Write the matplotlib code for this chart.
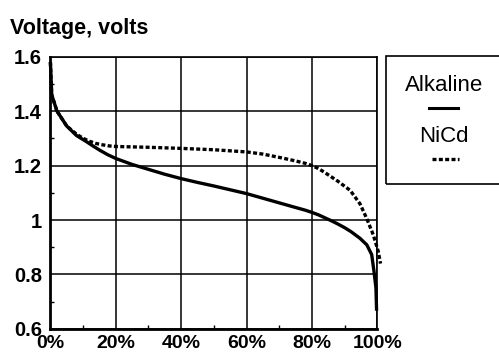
#! /usr/bin/env python3

import matplotlib
matplotlib.use('Agg')
import matplotlib.pyplot as plt
from matplotlib.lines import Line2D
from matplotlib.patches import Rectangle

plt.rcParams['font.family'] = ['Liberation Sans', 'DejaVu Sans']

# discharge curves, x = % of capacity used, y = volts
alk_x = [0, 0.4, 2, 5, 8, 11, 13, 15, 17.5, 20, 25, 30, 35, 40, 45, 50, 55,
         60, 65, 70, 75, 78, 80, 82, 84, 86, 88, 90, 92, 94.7, 96.8, 98.3,
         99, 99.6, 99.8]
alk_y = [1.58, 1.46, 1.40, 1.345, 1.31, 1.288, 1.272, 1.257, 1.24, 1.226,
         1.204, 1.186, 1.168, 1.152, 1.138, 1.125, 1.111, 1.097, 1.08, 1.063,
         1.046, 1.036, 1.028, 1.019, 1.008, 0.997, 0.985, 0.972, 0.957, 0.933,
         0.909, 0.873, 0.812, 0.751, 0.667]

nicd_x = [0, 0.4, 2, 5, 8, 10, 12, 14, 16, 18, 20, 30, 40, 50, 60, 65, 70,
          75, 78, 80, 82, 84, 86, 88, 91.7, 94.7, 96.8, 98.8, 100.3, 101]
nicd_y = [1.58, 1.46, 1.40, 1.345, 1.315, 1.30, 1.289, 1.281, 1.276, 1.272,
          1.27, 1.267, 1.263, 1.258, 1.25, 1.242, 1.23, 1.217, 1.208, 1.200,
          1.189, 1.174, 1.158, 1.142, 1.109, 1.06, 1.005, 0.945, 0.885, 0.84]

x_ticks = [0, 20, 40, 60, 80, 100]
x_labels = ['0%', '20%', '40%', '60%', '80%', '100%']
y_ticks = [0.6, 0.8, 1.0, 1.2, 1.4, 1.6]
y_labels = ['0.6', '0.8', '1', '1.2', '1.4', '1.6']

fig = plt.figure(figsize=(4.99, 3.56), dpi=100)
ax = fig.add_axes([0.101, 0.076, 0.655, 0.765])

ax.plot(alk_x, alk_y, color='black', lw=2.4, solid_capstyle='butt',
        clip_on=False, zorder=3)
ax.plot(nicd_x, nicd_y, color='black', lw=2.4, ls=(0, (1.2, 0.7)),
        clip_on=False, zorder=3)

ax.set_xlim(0, 100)
ax.set_ylim(0.6, 1.6)
ax.set_xticks(x_ticks)
ax.set_xticklabels(x_labels)
ax.set_yticks(y_ticks)
ax.set_yticklabels(y_labels)
ax.set_xticks([10, 30, 50, 70, 90], minor=True)
ax.set_yticks([0.7, 0.9, 1.1, 1.3, 1.5], minor=True)
ax.grid(True, which='major', color='black', lw=1.1)
ax.tick_params(which='major', length=0, labelsize=14.5)
ax.tick_params(axis='x', which='major', pad=4.5, labelsize=14)
ax.tick_params(axis='y', which='major', pad=6)
ax.tick_params(which='minor', direction='in', length=3, width=1)
for lab in ax.get_xticklabels() + ax.get_yticklabels():
    lab.set_fontweight('bold')

ax.spines['left'].set_linewidth(2.0)
ax.spines['bottom'].set_linewidth(2.0)
ax.spines['top'].set_linewidth(1.2)
ax.spines['right'].set_linewidth(1.2)

fig.text(0.02, 0.905, 'Voltage, volts', fontsize=15.5, fontweight='bold',
         va='baseline', ha='left')

# legend box, text above each line sample
fig.patches.append(Rectangle((0.774, 0.483), 0.3, 0.359, transform=fig.transFigure,
                             fill=False, ec='black', lw=1.2, clip_on=False))
fig.text(0.890, 0.744, 'Alkaline', fontsize=16, ha='center', va='baseline')
fig.lines.append(Line2D([0.860, 0.918], [0.697, 0.697], transform=fig.transFigure,
                        color='black', lw=2.2))
fig.text(0.890, 0.601, 'NiCd', fontsize=16, ha='center', va='baseline')
fig.lines.append(Line2D([0.866, 0.920], [0.553, 0.553], transform=fig.transFigure,
                        color='black', lw=2.4, ls=(0, (1.2, 0.7))))

fig.savefig('out.png', dpi=100)
